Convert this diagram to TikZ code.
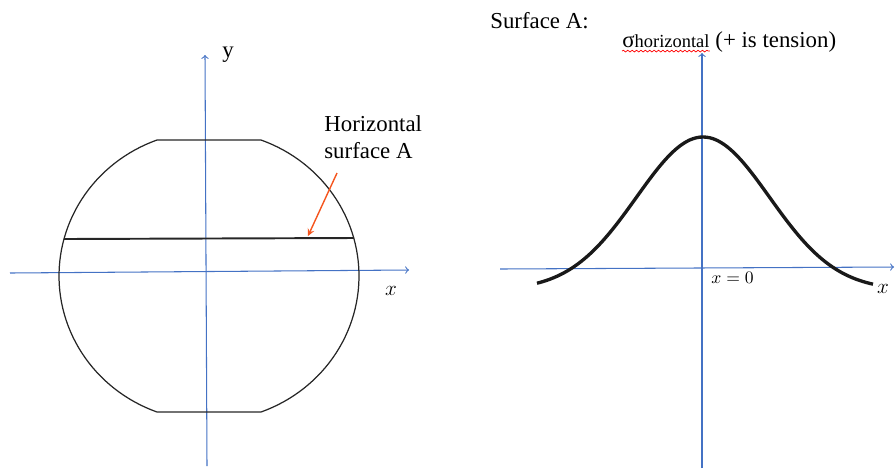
\documentclass[tikz,border=0pt]{standalone}
\usepackage{fontspec}
\setmainfont{Liberation Serif}
\usetikzlibrary{arrows, positioning, calc, decorations.pathmorphing}
\definecolor{axblue}{RGB}{68,114,196}
\definecolor{pointer}{RGB}{245,85,30}
\tikzset{
  ax/.style={->, >=to, axblue, line width=0.6pt},
  rim/.style={line width=0.7pt, black!85},
  cut/.style={line width=1.1pt, black!85},
  crv/.style={line width=1.9pt, black!90, line join=round},
  ptr/.style={->, >=stealth, pointer, line width=0.8pt},
  tlab/.style={font=\fontsize{13}{15.5}\selectfont, inner sep=0pt},
  axlab/.style={font=\fontsize{12}{14}\selectfont, inner sep=0pt},
  wavy/.style={red, line width=0.4pt, decorate, decoration={snake, amplitude=0.5pt, segment length=2.5pt}}
}

\begin{document}
\begin{tikzpicture}[x=0.02cm, y=-0.02cm]
		\useasboundingbox (0,0) rectangle (895,468);
		% left: disc with two flats
		\coordinate (xl0) at (10,273);
		\coordinate (xl1) at (409,270);
		\coordinate (yl0) at (207,466);
		\coordinate (yl1) at (205,55);
		\draw[ax] (xl0) -- (xl1);
		\draw[ax] (yl0) -- (yl1);
		\draw[rim] plot[domain=110.3:249.7, samples=60] ({209+150*cos(\x)}, {276-145*sin(\x)})
			-- plot[domain=-69.7:69.7, samples=60] ({209+150*cos(\x)}, {276-145*sin(\x)}) -- cycle;
		\coordinate (sA) at (64,239);
		\coordinate (sB) at (354,238);
		\draw[cut] (sA) -- (sB);
		\node[tlab] (ylab) at (228,55) {y};
		\node[axlab] (xlab) at (391,291) {$x$};
		\node[tlab, align=left, anchor=north west] (surfA) at (324,115) {Horizontal\\surface A};
		\coordinate (tipA) at (308,236);
		\draw[ptr] ($(surfA.south west)+(13,14)$) -- (tipA);
		% right: stress along surface A
		\coordinate (xr0) at (500,269);
		\coordinate (xr1) at (894,267);
		\coordinate (yr0) at (702,468);
		\coordinate (yr1) at (702,53);
		\draw[ax] (xr0) -- (xr1);
		\draw[ax] (yr0) -- (yr1);
		\draw[crv] plot[domain=537:873, samples=100] (\x, {290-153*exp(-((\x-703)/100)^2/0.8846)});
		\node[tlab, anchor=base west] (surfT) at (490,28) {Surface A:};
		\node[tlab, anchor=base west] (sig) at (622,47) {σ{\fontsize{10.5}{12}\selectfont horizontal}};
		\node[tlab, right=3pt of sig.base east, anchor=base west] (tens) {(+ is tension)};
		\draw[wavy] ([yshift=-2pt]sig.south west) -- ([yshift=-2pt]sig.south east);
		\node[anchor=base west, inner sep=0pt, font=\fontsize{10}{12}\selectfont] (orig) at (711,283) {$x = 0$};
		\node[axlab] (xrlab) at (883,289) {$x$};
	\end{tikzpicture}
\end{document}
